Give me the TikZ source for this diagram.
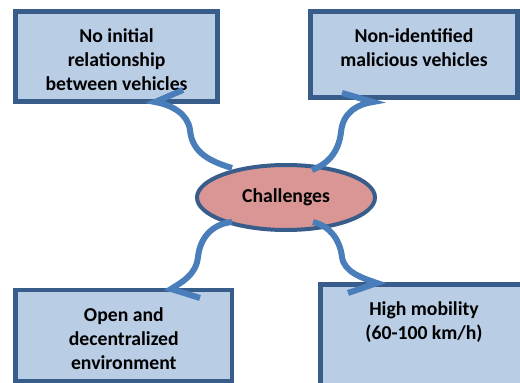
\documentclass[tikz,border=0pt]{standalone}
\usepackage{fontspec}
\setmainfont{Carlito}
\usetikzlibrary{calc,shapes.geometric}
\definecolor{bordc}{HTML}{385D8A}
\definecolor{boxfill}{HTML}{B9CDE5}
\definecolor{ellfill}{HTML}{D99694}
\definecolor{arrc}{HTML}{4A7EBB}
\begin{document}
\begin{tikzpicture}[x=1pt,y=-1pt,
  box/.style={draw=bordc,fill=boxfill,line width=4.5pt,rectangle,inner sep=0pt,outer sep=0pt,anchor=north west},
  lbl/.style={font=\bfseries\fontsize{19.7}{24}\selectfont,align=center,inner sep=0pt,anchor=north},
  arr/.style={draw=arrc,line width=6pt,line join=miter,line cap=butt}]
\useasboundingbox (0,0) rectangle (520,383);
\clip (0,0) rectangle (520,383);
\fill[white] (0,0) rectangle (520,383);
% boxes
\node[box,minimum width=201.8pt,minimum height=89.8pt] (b1) at (15.7,11.7) {};
\node[box,minimum width=207pt,minimum height=85.8pt] (b2) at (310.5,11.7) {};
\node[box,minimum width=216.3pt,minimum height=91pt] (b3) at (15.7,290) {};
\node[box,minimum width=239.5pt,minimum height=135.5pt] (b4) at (320.5,284.5) {};
% labels
\node[lbl] (l1) at (116.6,28.5) {No initial\\relationship\\between vehicles};
\node[lbl] (l2) at (414,28.5) {Non-identified\\malicious vehicles};
\node[lbl] (l3) at (123.8,307) {Open and\\decentralized\\environment};
\node[lbl] (l4) at (424,301) {High mobility\\(60-100 km/h)};
% ellipse
\node[ellipse,draw=bordc,fill=ellfill,line width=4pt,minimum width=178pt,minimum height=65pt,inner sep=0pt,outer sep=0pt,font=\bfseries\fontsize{19.7}{24}\selectfont] (ell) at (286,197.5) {Challenges};
% arrow tips
\coordinate (t1) at (155,102); \coordinate (k1) at (183,90);
\coordinate (t2) at (373,102); \coordinate (k2) at (342,93);
\coordinate (t3) at (171,289); \coordinate (k3) at (200,298);
\coordinate (t4) at (377,283); \coordinate (k4) at (348,293);
% arrows
\draw[arr] ($(ell.center)+(-54,-29.5)$) .. controls (205,160) and (192,150) .. (190,130) .. controls (188,114) and (172,105) .. (t1) -- (k1);
\draw[arr] ($(ell.center)+(26,-27.5)$) .. controls (330,163) and (339,150) .. (341,132) .. controls (343,112) and (358,104) .. (t2) -- (k2);
\draw[arr] ($(ell.center)+(-54,24.5)$) .. controls (212,224) and (200,238) .. (198,257) .. controls (196,275) and (182,282) .. (t3) -- (k3);
\draw[arr] ($(ell.center)+(27,24.5)$) .. controls (330,226) and (340,240) .. (342,257) .. controls (344,272) and (362,278) .. (t4) -- (k4);
\end{tikzpicture}
\end{document}
